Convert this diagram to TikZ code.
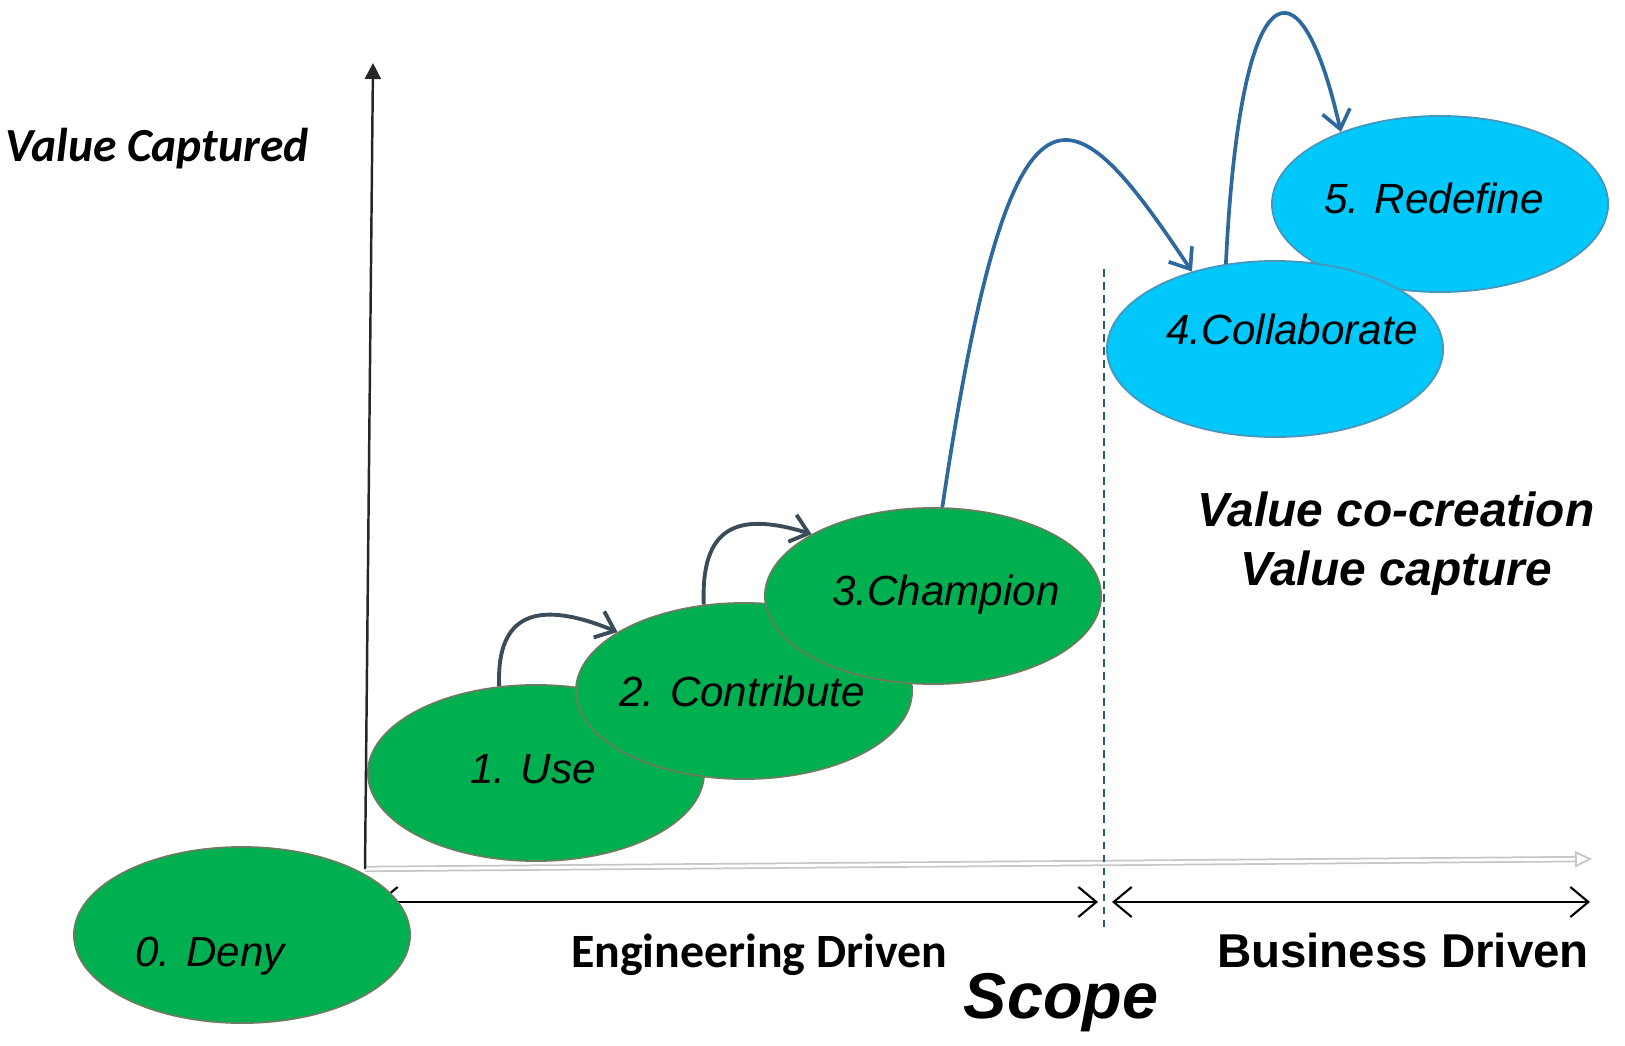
\documentclass[tikz,border=0pt]{standalone}
\usepackage{fontspec}
\usepackage{tikz}
\usetikzlibrary{shapes.geometric}
\usetikzlibrary{arrows.meta}
\newfontfamily\arialfont{Liberation Sans}
\newfontfamily\calibrifont{Carlito}
\definecolor{stagegreen}{RGB}{0,176,80}
\definecolor{stageblue}{RGB}{0,200,250}
\definecolor{greenrim}{RGB}{105,125,95}
\definecolor{bluerim}{RGB}{70,150,190}
\definecolor{hopslate}{RGB}{58,76,88}
\definecolor{hopsteel}{RGB}{45,105,158}
\definecolor{splitteal}{RGB}{40,92,108}
\tikzset{greenstage/.style={ellipse,fill=stagegreen,draw=greenrim,line width=0.5pt,
    minimum width=3.36cm,minimum height=1.76cm,inner sep=0pt},
  bluestage/.style={greenstage,fill=stageblue,draw=bluerim},
  stagetext/.style={font=\arialfont\itshape\fontsize{12}{14}\selectfont,anchor=base,inner sep=0pt},
  smallhop/.style={draw=hopslate,line width=1.1pt,-{Straight Barb[length=1.7mm,width=2.8mm]}},
  bighop/.style={draw=hopsteel,line width=1.05pt,-{Straight Barb[length=1.8mm,width=2.8mm]}},
  scopearrow/.style={line width=0.6pt,{Straight Barb[length=1.8mm,width=3mm]}-{Straight Barb[length=1.8mm,width=3mm]}}
}

\begin{document}
\begin{tikzpicture}[x=0.01cm,y=-0.01cm]
                \useasboundingbox (0,0) rectangle (1625,1046);
                
                % Axes
                \coordinate (origin) at (365,869);
                \coordinate (ytip) at (373,63);
                \coordinate (xtip) at (1592,859);
                \draw[draw=gray!45,line width=0.5pt,double=white,double distance=0.8pt,
                    -{Triangle[open,length=1.7mm,width=1.6mm]}] (origin) -- (xtip);
                \draw[black!85,line width=0.7pt,-{Triangle[length=1.6mm,width=1.6mm]}] (origin) -- (ytip);
                
                % Split between the two scopes
                \coordinate (splittop) at (1104,269);
                \coordinate (splitbot) at (1104,932);
                \draw[splitteal,line width=0.6pt,dash pattern=on 2.2pt off 1.5pt] (splittop) -- (splitbot);
                
                \coordinate (engleft) at (378,902);
                \coordinate (engright) at (1098,902);
                \coordinate (busleft) at (1112,902);
                \coordinate (busright) at (1590,902);
                \draw[scopearrow] (engleft) -- (engright);
                \draw[scopearrow] (busleft) -- (busright);
                
                % Stages
                \node[greenstage] (deny) at (242,935) {};
                \node[greenstage] (use) at (536,773) {};
                \node[greenstage] (contribute) at (744,691) {};
                \node[greenstage] (champion) at (933,596) {};
                \node[bluestage] (redefine) at (1440,204) {};
                \node[bluestage] (collaborate) at (1275,349) {};
                
                % Hops
                \draw[smallhop] (use.113) .. controls +(-3,-75) and +(-78,-32) .. (contribute.155);
                \draw[smallhop] (contribute.115) .. controls +(-3,-78) and +(-75,-23) .. (champion.153);
                \draw[bighop] (champion.84) .. controls +(70,-470) and +(-120,-180) .. (collaborate.137);
                \draw[bighop] (collaborate.120) .. controls +(14,-292) and +(-42,-186) .. (redefine.144);
                
                % Labels
                \node[stagetext] (denytxt) at (210,966) {0. Deny};
                \node[stagetext] (usetxt) at (533,783) {1. Use};
                \node[stagetext] (contributetxt) at (742,706) {2. Contribute};
                \node[stagetext] (championtxt) at (946,605) {3.Champion};
                \node[stagetext] (collaboratetxt) at (1292,344) {4.Collaborate};
                \node[stagetext] (redefinetxt) at (1434,214) {5. Redefine};
                
                \node[font=\calibrifont\bfseries\itshape\fontsize{13.5}{16}\selectfont,anchor=base west,inner sep=0pt]
                    (ylabel) at (5,162) {Value Captured};
                \node[font=\arialfont\bfseries\itshape\fontsize{13.6}{16.5}\selectfont,align=center,anchor=base,inner sep=0pt]
                    (cocreation) at (1396,585) {Value co-creation\\Value capture};
                \node[font=\calibrifont\bfseries\fontsize{13.6}{16}\selectfont,anchor=base,inner sep=0pt]
                    (engtxt) at (759,967) {Engineering Driven};
                \node[font=\arialfont\bfseries\fontsize{13.5}{16}\selectfont,anchor=base,inner sep=0pt]
                    (bustxt) at (1403,967) {Business Driven};
                \node[font=\arialfont\bfseries\itshape\fontsize{18.4}{21}\selectfont,anchor=base,inner sep=0pt]
                    (scopetxt) at (1061,1018) {Scope};
            \end{tikzpicture}
\end{document}
